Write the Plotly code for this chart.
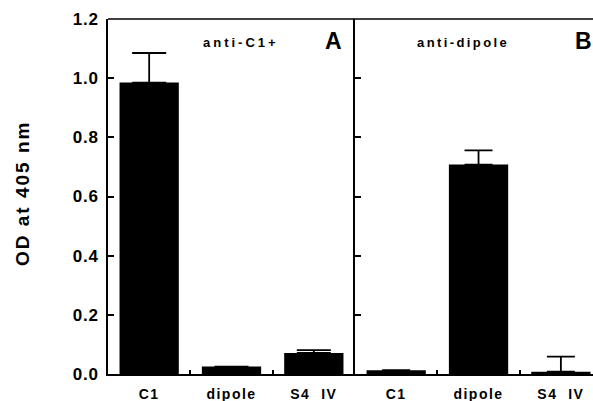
import plotly.graph_objects as go

categories = ["C1", "dipole", "S4 IV"]
tick_labels = ["C1", "dipole", "S4  IV"]
anti_c1_values = [0.985, 0.025, 0.071]
anti_c1_errors = [0.100, 0.0, 0.010]
anti_dipole_values = [0.013, 0.708, 0.008]
anti_dipole_errors = [0.0, 0.048, 0.051]
y_ticks = [0.0, 0.2, 0.4, 0.6, 0.8, 1.0, 1.2]

FONT = "Liberation Sans, Arial, sans-serif"

def spaced(t, px):
    return f'<span style="letter-spacing:{px}px">{t}</span>'

fig = go.Figure()
fig.add_trace(go.Bar(
    x=categories, y=anti_c1_values, width=0.72, marker=dict(color="black", line=dict(width=0)),
    error_y=dict(type="data", symmetric=False, array=anti_c1_errors, arrayminus=[0, 0, 0],
                 color="black", thickness=1.8, width=17),
    xaxis="x", yaxis="y", showlegend=False))
fig.add_trace(go.Bar(
    x=categories, y=anti_dipole_values, width=0.72, marker=dict(color="black", line=dict(width=0)),
    error_y=dict(type="data", symmetric=False, array=anti_dipole_errors, arrayminus=[0, 0, 0],
                 color="black", thickness=1.8, width=14),
    xaxis="x2", yaxis="y2", showlegend=False))

split = 247 / 485
xcommon = dict(type="category", showline=True, linecolor="black", linewidth=1.5,
               ticks="inside", ticklen=4, tickwidth=1.5, tickcolor="black", tickson="boundaries",
               tickvals=categories, ticktext=[spaced(t, 1.5) for t in tick_labels],
               ticklabelstandoff=6,
               tickfont=dict(family=FONT, size=14, color="black", weight="bold"),
               showgrid=False, zeroline=False, automargin=False, fixedrange=True)
fig.update_layout(
    width=593, height=401,
    margin=dict(l=108, r=0, t=19, b=27),
    paper_bgcolor="white", plot_bgcolor="white",
    xaxis=dict(domain=[0, split], range=[-0.5, 2.5], anchor="y", **xcommon),
    xaxis2=dict(domain=[split, 1], range=[-0.5, 2.39], anchor="y2", **xcommon),
    yaxis=dict(range=[0, 1.2], tickvals=y_ticks, ticktext=[spaced(f"{v:.1f}", 0.8) for v in y_ticks],
               showline=True, linecolor="black", linewidth=1.5, ticks="inside", ticklen=6,
               tickwidth=1.5, tickcolor="black", ticklabelstandoff=4,
               tickfont=dict(family=FONT, size=17, color="black", weight="bold"),
               showgrid=False, zeroline=False, automargin=False, anchor="x"),
    yaxis2=dict(range=[0, 1.2], tickvals=y_ticks, showticklabels=False,
                showline=True, linecolor="black", linewidth=1.5, ticks="inside", ticklen=6,
                tickwidth=1.5, tickcolor="black",
                showgrid=False, zeroline=False, automargin=False, anchor="x2"),
    bargap=0.28,
)

# top frame line across both panels
fig.add_shape(type="line", xref="paper", yref="paper", x0=0, x1=1, y0=1, y1=1,
              line=dict(color="black", width=1.5))

fig.add_annotation(text=spaced("anti-C1+", 3), x=1.12, y=1.12, xref="x", yref="y",
                   showarrow=False, font=dict(family=FONT, size=13, color="black", weight="bold"))
fig.add_annotation(text="A", x=2.24, y=1.125, xref="x", yref="y",
                   showarrow=False, font=dict(family=FONT, size=23, color="black", weight="bold"))
fig.add_annotation(text=spaced("anti-dipole", 2.4), x=0.81, y=1.12, xref="x2", yref="y2",
                   showarrow=False, font=dict(family=FONT, size=13, color="black", weight="bold"))
fig.add_annotation(text="B", x=2.27, y=1.125, xref="x2", yref="y2",
                   showarrow=False, font=dict(family=FONT, size=23, color="black", weight="bold"))
fig.add_annotation(text=spaced("OD at 405 nm", 2), x=(22 - 108) / 485, y=(374 - 194) / 355,
                   xref="paper", yref="paper", textangle=-90, showarrow=False,
                   xanchor="center", yanchor="middle",
                   font=dict(family=FONT, size=19, color="black", weight="bold"))

fig.write_html("out.html")
